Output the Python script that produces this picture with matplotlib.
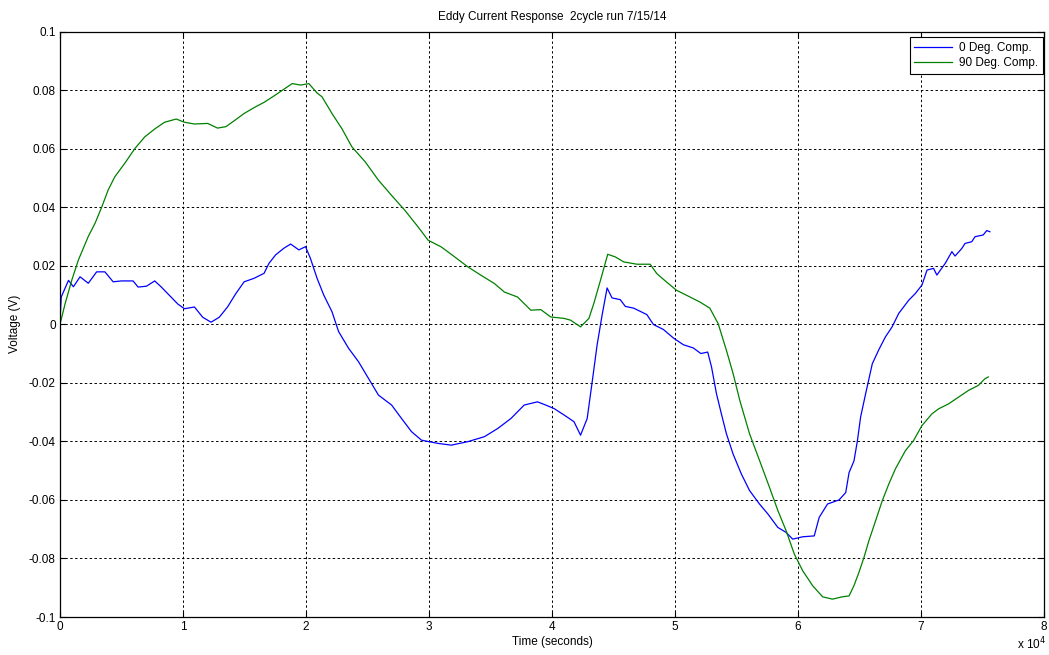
import matplotlib
matplotlib.use("Agg")
import matplotlib.pyplot as plt

plt.rcParams['font.family'] = ['Liberation Sans', 'DejaVu Sans']

# time in units of 1e4 seconds
t_blue = [0.0, 0.01, 0.069, 0.109, 0.163, 0.230, 0.298, 0.365, 0.432, 0.500, 0.594, 0.635, 0.703,
          0.770, 0.824, 0.891, 0.958, 1.012, 1.093, 1.160, 1.228, 1.295, 1.362, 1.430, 1.497,
          1.578, 1.659, 1.699, 1.753, 1.821, 1.875, 1.942, 1.996, 2.036, 2.090, 2.144, 2.211,
          2.265, 2.346, 2.427, 2.508, 2.589, 2.696, 2.777, 2.858, 2.939, 3.074, 3.181, 3.316,
          3.451, 3.559, 3.666, 3.774, 3.882, 3.949, 4.017, 4.098, 4.179, 4.232, 4.286, 4.327,
          4.367, 4.408, 4.448, 4.488, 4.555, 4.596, 4.664, 4.771, 4.825, 4.906, 4.987, 5.068,
          5.149, 5.210, 5.266, 5.297, 5.337, 5.377, 5.418, 5.472, 5.539, 5.606, 5.687, 5.755,
          5.836, 5.903, 5.957, 6.038, 6.132, 6.172, 6.240, 6.334, 6.388, 6.415, 6.455, 6.483,
          6.509, 6.550, 6.604, 6.657, 6.711, 6.765, 6.819, 6.900, 6.954, 7.008, 7.049, 7.102,
          7.129, 7.197, 7.251, 7.277, 7.332, 7.358, 7.413, 7.439, 7.506, 7.534, 7.560]
v_blue = [0.001, 0.0093, 0.015, 0.0128, 0.0162, 0.014, 0.0179, 0.0179, 0.0145, 0.0148, 0.0148,
          0.0127, 0.013, 0.0148, 0.0127, 0.0098, 0.0069, 0.0053, 0.0059, 0.0024, 0.0007, 0.0024,
          0.0059, 0.0105, 0.0145, 0.0157, 0.0174, 0.0208, 0.0237, 0.026, 0.0274, 0.0254, 0.0265,
          0.0225, 0.0157, 0.0100, 0.0043, -0.0025, -0.0082, -0.0128, -0.0185, -0.0242, -0.0276,
          -0.0322, -0.0367, -0.0396, -0.0407, -0.0413, -0.0401, -0.0384, -0.0356, -0.0322,
          -0.0276, -0.0265, -0.0276, -0.0288, -0.031, -0.0333, -0.0379, -0.0322, -0.0196,
          -0.0070, 0.0033, 0.0124, 0.009, 0.0084, 0.0061, 0.0055, 0.0033, -0.0001, -0.0018,
          -0.0047, -0.007, -0.0081, -0.0100, -0.0095, -0.0146, -0.0237, -0.0306, -0.0374,
          -0.0443, -0.0511, -0.0568, -0.0614, -0.0648, -0.0694, -0.0711, -0.0734, -0.0726,
          -0.0723, -0.066, -0.0614, -0.060, -0.0575, -0.0507, -0.0467, -0.0398, -0.0317,
          -0.0237, -0.0135, -0.0087, -0.0043, -0.0009, 0.0037, 0.0082, 0.0105, 0.0134, 0.0185,
          0.0191, 0.0168, 0.0208, 0.0248, 0.0233, 0.0259, 0.0276, 0.0282, 0.0299, 0.0305,
          0.032, 0.0316]

t_green = [0.0, 0.042, 0.096, 0.150, 0.230, 0.285, 0.339, 0.392, 0.446, 0.527, 0.608, 0.689,
           0.770, 0.850, 0.945, 1.012, 1.093, 1.201, 1.281, 1.349, 1.416, 1.497, 1.578, 1.659,
           1.740, 1.821, 1.888, 1.956, 2.023, 2.090, 2.130, 2.211, 2.292, 2.373, 2.481, 2.589,
           2.696, 2.804, 2.912, 2.993, 3.100, 3.209, 3.316, 3.424, 3.532, 3.613, 3.720, 3.828,
           3.909, 3.989, 4.098, 4.151, 4.232, 4.300, 4.340, 4.394, 4.453, 4.515, 4.583, 4.691,
           4.798, 4.852, 4.932, 5.013, 5.094, 5.202, 5.283, 5.351, 5.418, 5.472, 5.526, 5.606,
           5.687, 5.768, 5.836, 5.903, 5.970, 6.038, 6.119, 6.200, 6.280, 6.361, 6.415, 6.455,
           6.495, 6.536, 6.576, 6.631, 6.685, 6.738, 6.792, 6.873, 6.940, 7.008, 7.089, 7.143,
           7.224, 7.305, 7.386, 7.466, 7.520, 7.547]
v_green = [0.0, 0.0071, 0.0151, 0.022, 0.030, 0.0345, 0.040, 0.0459, 0.0504, 0.055, 0.060,
           0.064, 0.0667, 0.069, 0.0701, 0.069, 0.0684, 0.0686, 0.067, 0.0675, 0.0695, 0.072,
           0.074, 0.0758, 0.078, 0.0803, 0.0822, 0.0817, 0.0822, 0.079, 0.0777, 0.072, 0.0668,
           0.0606, 0.0555, 0.0492, 0.044, 0.0389, 0.0332, 0.0287, 0.0264, 0.023, 0.0196,
           0.0167, 0.0139, 0.011, 0.0093, 0.0048, 0.005, 0.0025, 0.002, 0.0014, -0.0009,
           0.002, 0.0071, 0.015, 0.0239, 0.023, 0.0213, 0.0205, 0.0205, 0.0173, 0.0144,
           0.0116, 0.0099, 0.0076, 0.0055, 0.0002, -0.0089, -0.0168, -0.0259, -0.0374,
           -0.0465, -0.0557, -0.0636, -0.0705, -0.0785, -0.0842, -0.0893, -0.0931, -0.0939,
           -0.0931, -0.0928, -0.0893, -0.0848, -0.0797, -0.0740, -0.0671, -0.0603, -0.0546,
           -0.0494, -0.0432, -0.0397, -0.0346, -0.0306, -0.0289, -0.0272, -0.0249, -0.0226,
           -0.0209, -0.0186, -0.018]

series_labels = ['0 Deg. Comp.', '90 Deg. Comp.']
x_ticks = [0, 1, 2, 3, 4, 5, 6, 7, 8]
y_ticks = [-0.1, -0.08, -0.06, -0.04, -0.02, 0, 0.02, 0.04, 0.06, 0.08, 0.1]
y_ticklabels = ['-0.1', '-0.08', '-0.06', '-0.04', '-0.02', '0', '0.02', '0.04', '0.06', '0.08', '0.1']

W, H = 1049, 655
fig = plt.figure(figsize=(W / 100, H / 100), dpi=100)
ax = fig.add_axes([60 / W, 1 - 617 / H, 984 / W, (617 - 31.5) / H])

ax.plot(t_blue, v_blue, color=(0, 0, 1), lw=0.9, label=series_labels[0])
ax.plot(t_green, v_green, color=(0, 0.5, 0), lw=0.9, label=series_labels[1])

ax.set_xlim(0, 8)
ax.set_ylim(-0.1, 0.1)
ax.set_xticks(x_ticks)
ax.set_xticklabels([str(v) for v in x_ticks])
ax.set_yticks(y_ticks)
ax.set_yticklabels(y_ticklabels)
ax.tick_params(direction='in', length=4, width=0.8, top=True, right=True,
               labelsize=8.5, pad=3)
ax.grid(True, color='black', linestyle=(0, (2.5, 2.5)), linewidth=0.7)
for s in ax.spines.values():
    s.set_linewidth(0.9)
    s.set_color('black')

ax.set_title('Eddy Current Response  2cycle run 7/15/14', fontsize=8.5, pad=8)
ax.set_xlabel('Time (seconds)', fontsize=8.5, labelpad=2)
ax.set_ylabel('Voltage (V)', fontsize=8.5, labelpad=6)
fig.text(1046 / W, 1 - 652 / H, r'x 10$^4$', fontsize=8.5, ha='right', va='bottom')

leg = ax.legend(loc='upper right', bbox_to_anchor=(1043 / W, 1 - 37 / H),
                bbox_transform=fig.transFigure, fontsize=8.5, frameon=True,
                fancybox=False, framealpha=1, edgecolor='black', borderpad=0.4,
                handlelength=3.2, labelspacing=0.3, handletextpad=0.6, borderaxespad=0)
leg.get_frame().set_linewidth(0.8)

fig.savefig('out.png', dpi=100)
